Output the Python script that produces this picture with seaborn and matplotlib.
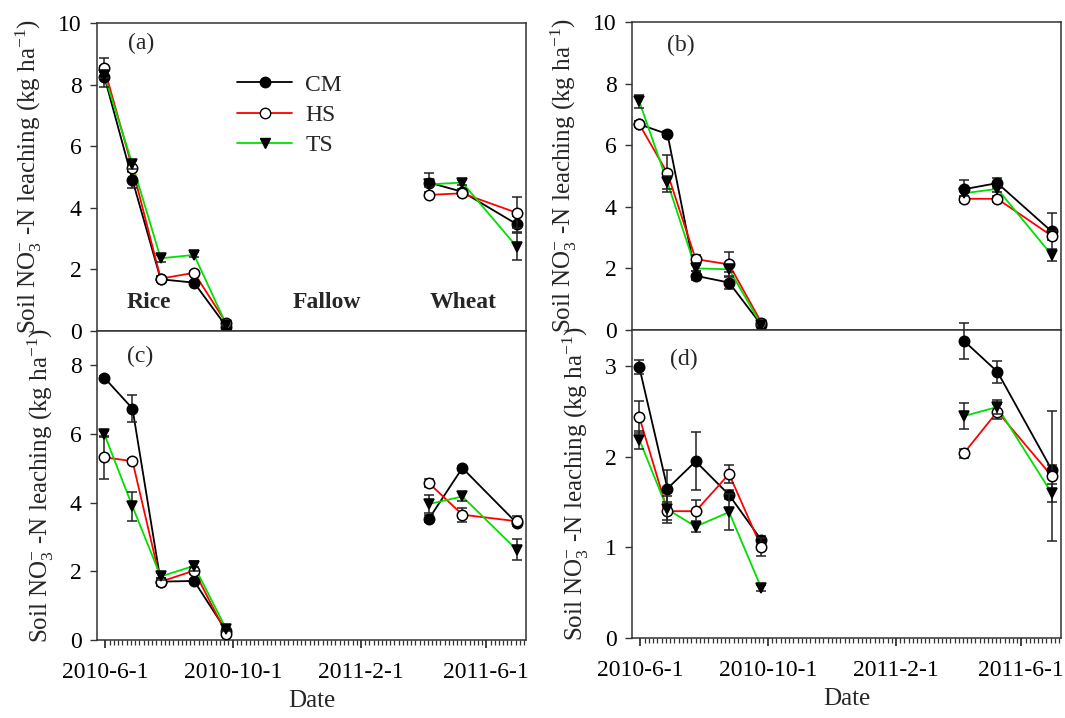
import numpy as np
import pandas as pd
import matplotlib
matplotlib.use("Agg")
import matplotlib.pyplot as plt
import matplotlib.dates as mdates
from matplotlib.lines import Line2D
import seaborn as sns

# ---------------- data ----------------
dates = ["2010-05-31", "2010-06-27", "2010-07-24", "2010-08-25", "2010-09-25",
         "2011-04-07", "2011-05-09", "2011-06-30"]
seasons = ["Rice"] * 5 + ["Wheat"] * 3
treatments = ["CM", "HS", "TS"]

a_CM = [8.26, 4.90, 1.68, 1.57, 0.14, 4.82, 4.52, 3.47]
a_HS = [8.53, 5.28, 1.70, 1.89, 0.25, 4.42, 4.47, 3.84]
a_TS = [8.31, 5.41, 2.36, 2.47, 0.20, 4.76, 4.82, 2.74]
a_CM_err = [0.35, 0.25, 0.08, 0.05, 0.03, 0.30, 0.10, 0.25]
a_HS_err = [0.32, 0.10, 0.10, 0.05, 0.05, 0.05, 0.10, 0.50]
a_TS_err = [0.10, 0.15, 0.12, 0.08, 0.03, 0.10, 0.08, 0.45]

b_CM = [6.68, 6.36, 1.76, 1.54, 0.16, 4.57, 4.77, 3.20]
b_HS = [6.68, 5.09, 2.30, 2.13, 0.24, 4.26, 4.26, 3.06]
b_TS = [7.42, 4.79, 2.00, 1.97, 0.16, 4.44, 4.58, 2.44]
b_CM_err = [0.10, 0.10, 0.15, 0.20, 0.03, 0.30, 0.15, 0.60]
b_HS_err = [0.10, 0.60, 0.15, 0.40, 0.05, 0.10, 0.10, 0.15]
b_TS_err = [0.20, 0.20, 0.10, 0.10, 0.03, 0.10, 0.10, 0.20]

c_CM = [7.64, 6.74, 1.70, 1.72, 0.26, 3.53, 5.01, 3.41]
c_HS = [5.32, 5.21, 1.70, 2.02, 0.18, 4.57, 3.65, 3.46]
c_TS = [6.00, 3.89, 1.85, 2.16, 0.31, 3.96, 4.18, 2.63]
c_CM_err = [0.05, 0.39, 0.10, 0.05, 0.03, 0.10, 0.05, 0.10]
c_HS_err = [0.62, 0.05, 0.12, 0.10, 0.05, 0.12, 0.20, 0.15]
c_TS_err = [0.10, 0.43, 0.10, 0.15, 0.05, 0.25, 0.12, 0.30]

d_CM = [2.99, 1.65, 1.95, 1.58, 1.08, 3.28, 2.94, 1.86]
d_HS = [2.44, 1.40, 1.40, 1.81, 1.00, 2.04, 2.50, 1.79]
d_TS = [2.19, 1.42, 1.23, 1.39, 0.55, 2.45, 2.55, 1.60]
d_CM_err = [0.08, 0.20, 0.32, 0.05, 0.05, 0.20, 0.12, 0.05]
d_HS_err = [0.18, 0.10, 0.12, 0.10, 0.10, 0.05, 0.08, 0.72]
d_TS_err = [0.10, 0.15, 0.06, 0.20, 0.03, 0.14, 0.08, 0.10]

major_dates = ["2010-06-01", "2010-10-01", "2011-02-01", "2011-06-01"]
tick_labels = ["2010-6-1", "2010-10-1", "2011-2-1", "2011-6-1"]
panel_labels = ["(a)", "(b)", "(c)", "(d)"]
season_labels = ["Rice", "Fallow", "Wheat"]

# ---------------- style ----------------
sns.set_style("ticks")
plt.rcParams["font.family"] = ["Liberation Serif", "DejaVu Serif"]
plt.rcParams["mathtext.fontset"] = "custom"
plt.rcParams["mathtext.rm"] = "Liberation Serif"
plt.rcParams["mathtext.it"] = "Liberation Serif:italic"
plt.rcParams["mathtext.bf"] = "Liberation Serif:bold"

colors = {"CM": "#000000", "HS": "#ff0000", "TS": "#00e000"}
markers = {"CM": "o", "HS": "o", "TS": "v"}
faces = {"CM": "black", "HS": "white", "TS": "black"}

W, H = 1065, 718
fig = plt.figure(figsize=(W / 100, H / 100), dpi=100)
boxes = [(97, 23, 429, 308), (632, 22, 429, 308), (97, 331, 429, 309), (632, 330, 429, 308)]
axes = [fig.add_axes([l / W, 1 - (t + h) / H, w / W, h / H]) for l, t, w, h in boxes]

panels = [
    (a_CM, a_HS, a_TS, a_CM_err, a_HS_err, a_TS_err),
    (b_CM, b_HS, b_TS, b_CM_err, b_HS_err, b_TS_err),
    (c_CM, c_HS, c_TS, c_CM_err, c_HS_err, c_TS_err),
    (d_CM, d_HS, d_TS, d_CM_err, d_HS_err, d_TS_err),
]
ylims = [(0, 10), (0, 10), (0, 9), (0, 3.4)]
yticks = [[0, 2, 4, 6, 8, 10], [0, 2, 4, 6, 8, 10], [0, 2, 4, 6, 8], [0, 1, 2, 3]]

dt = pd.to_datetime(dates)
xlim = (mdates.date2num(pd.Timestamp("2010-05-24")), mdates.date2num(pd.Timestamp("2011-07-09")))
major_num = mdates.date2num(pd.to_datetime(major_dates))
minor = []
for i in range(len(major_num) - 1):
    minor.extend(np.linspace(major_num[i], major_num[i + 1], 31)[1:-1])
step = (major_num[-1] - major_num[-2]) / 30
v = major_num[-1] + step
while v < xlim[1]:
    minor.append(v)
    v += step

FS = 17
for k, ax in enumerate(axes):
    cm, hs, ts, cme, hse, tse = panels[k]
    vals = {"CM": cm, "HS": hs, "TS": ts}
    errs = {"CM": cme, "HS": hse, "TS": tse}
    df = pd.DataFrame({
        "date": np.tile(dt, 3),
        "value": np.concatenate([cm, hs, ts]),
        "treatment": np.repeat(treatments, len(dates)),
        "season": np.tile(seasons, 3),
    })
    sns.lineplot(data=df, x="date", y="value", hue="treatment", units="season",
                 estimator=None, palette=colors, hue_order=treatments,
                 legend=False, ax=ax, linewidth=1.3, zorder=2)
    for j, t in enumerate(treatments):
        ax.errorbar(dt, vals[t], yerr=errs[t], fmt="none", ecolor="#222222",
                    elinewidth=1.1, capsize=3.5, capthick=1.1, zorder=3 + j,
                    clip_on=False)
        ax.plot(dt, vals[t], linestyle="none", marker=markers[t], markersize=7.5,
                markerfacecolor=faces[t], markeredgecolor="black",
                markeredgewidth=1.1, zorder=3.5 + j, clip_on=False)

    ax.set_ylim(*ylims[k])
    ax.set_yticks(yticks[k])
    ax.set_xlim(*xlim)
    ax.set_xticks(major_num)
    ax.set_xticks(minor, minor=True)
    for s in ax.spines.values():
        s.set_visible(True)
        s.set_color("#333333")
        s.set_linewidth(1.1)
    ax.tick_params(axis="y", direction="out", length=5, width=1, colors="#333333",
                   labelcolor="black", labelsize=FS, pad=6)
    ax.tick_params(axis="x", which="major", direction="out", length=6, width=1.3,
                   colors="#333333", labelcolor="black", labelsize=FS, pad=10)
    ax.tick_params(axis="x", which="minor", direction="out", length=3.5, width=0.9,
                   colors="#333333")
    ax.set_ylabel(r"Soil NO$_3^{-}$ -N leaching (kg ha$^{-1}$)", fontsize=18, labelpad=10)
    if k < 2:
        ax.set_xticklabels([])
        ax.tick_params(axis="x", which="both", length=0)
        ax.set_xlabel("")
    else:
        ax.set_xticklabels(tick_labels)
        ax.set_xlabel("Date", fontsize=18, labelpad=5)
    ax.set_facecolor("white")

# panel labels
lab_pos = [(0.072, 0.935), (0.082, 0.925), (0.07, 0.919), (0.089, 0.903)]
for ax, lab, (x, y) in zip(axes, panel_labels, lab_pos):
    ax.text(x, y, lab, transform=ax.transAxes, fontsize=FS, ha="left", va="center")

# season labels in panel (a)
for lab, x in zip(season_labels, [0.07, 0.457, 0.776]):
    axes[0].text(x, 0.094, lab, transform=axes[0].transAxes, fontsize=FS,
                 fontweight="bold", ha="left", va="center")

# legend in panel (a)
handles = [Line2D([0], [0], color=colors[t], lw=1.3, marker=markers[t], markersize=7.5,
                  markerfacecolor=faces[t], markeredgecolor="black") for t in treatments]
axes[0].legend(handles, treatments, loc="upper left", bbox_to_anchor=(0.326, 0.834),
               frameon=False, fontsize=FS, handlelength=2.35, handletextpad=0.55,
               labelspacing=0.37, borderpad=0, borderaxespad=0)

fig.savefig("out.png", dpi=100, facecolor="white")
